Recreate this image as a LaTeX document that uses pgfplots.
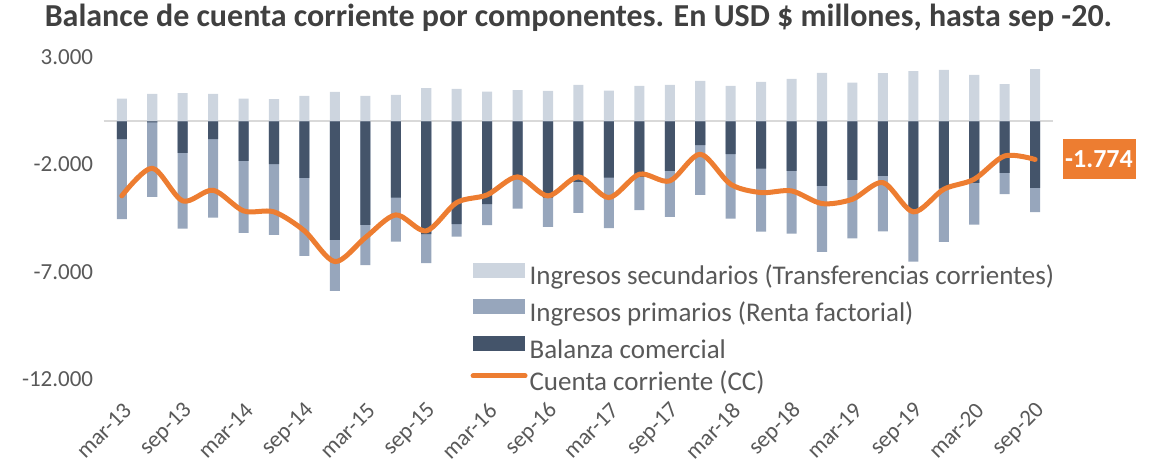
\documentclass[border=0pt]{standalone}
\usepackage{pgfplots}
\pgfplotsset{compat=1.18}
\usepackage{pgfplotstable}
\usepackage{fontspec}
\setmainfont{Carlito}

\definecolor{csec}{HTML}{CDD5DF}
\definecolor{cpri}{HTML}{97A6BC}
\definecolor{cbal}{HTML}{44546A}
\definecolor{ccc}{HTML}{ED7D31}
\definecolor{ctxt}{HTML}{595959}
\definecolor{cttl}{HTML}{404040}
\definecolor{czero}{HTML}{D9D9D9}

% trimestres mar-13 ... sep-20 (x = 0..30)
\pgfplotstableread{
x sec pri bc cc
0 1062 -3727 -830 -3470
1 1282 -3468 -50 -2181
2 1313 -3527 -1468 -3705
3 1282 -3651 -830 -3208
4 1062 -3355 -1841 -4171
5 1033 -3294 -1996 -4217
6 1188 -3635 -2633 -5103
7 1375 -2377 -5522 -6533
8 1188 -1878 -4823 -5415
9 1235 -2050 -3551 -4357
10 1546 -1350 -5258 -5103
11 1515 -577 -4791 -3783
12 1390 -977 -3860 -3425
13 1452 -1369 -2694 -2586
14 1421 -1365 -3551 -3472
15 1701 -1445 -2819 -2586
16 1437 -2360 -2617 -3551
17 1654 -1554 -2586 -2462
18 1701 -2143 -2307 -2773
19 1887 -2314 -1111 -1530
20 1654 -2998 -1530 -2929
21 1841 -2936 -2198 -3317
22 1981 -2920 -2307 -3239
23 2260 -3075 -3006 -3830
24 1810 -2719 -2726 -3627
25 2245 -2579 -2540 -2851
26 2338 -2393 -4140 -4217
27 2400 -2485 -3130 -3161
28 2167 -1943 -2866 -2695
29 1732 -994 -2400 -1608
30 2431 -1134 -3099 -1774
}\datos

\begin{document}
\begin{tikzpicture}
\begin{axis}[
    scale only axis, width=475pt, height=161pt,
    xmin=-0.6, xmax=30.6, ymin=-12000, ymax=3000,
    clip=false,
    axis line style={draw=none}, major tick length=0pt,
    ytick={-12000,-7000,-2000,3000},
    xtick={0,2,...,30},
    xticklabels={mar-13,sep-13,mar-14,sep-14,mar-15,sep-15,mar-16,sep-16,mar-17,sep-17,mar-18,sep-18,mar-19,sep-19,mar-20,sep-20},
    scaled y ticks=false,
    /pgf/number format/1000 sep={.},
    /pgf/number format/assume math mode=true,
    ticklabel style={font=\fontsize{11.5}{13}\selectfont, text=ctxt, inner sep=0pt},
    yticklabel style={anchor=east, xshift=-5pt},
    xticklabel style={xshift=3pt, yshift=-14pt, rotate=45, anchor=east},
    extra y ticks={0}, extra y tick labels={},
    extra y tick style={grid=major, major grid style={draw=czero, line width=1pt}},
    legend cell align=left,
    legend style={draw=none, fill=none, at={(0.386,0.362)}, anchor=north west,
        inner sep=0pt, row sep=4.2pt,
        font=\fontsize{13.5}{15}\selectfont, text=ctxt,
        nodes={inner sep=0pt, text height=9pt, text depth=3pt}},
]
\addplot[ybar, bar width=0.33, bar shift=0pt, fill=csec, draw=none,
    legend image code/.code={\fill[csec] (0pt,0.6pt) rectangle (26pt,8.1pt);}]
    table[x=x, y=sec]{\datos};
\addlegendentry{\hspace{1pt}Ingresos secundarios (Transferencias corrientes)}
\addplot[ybar, bar width=0.33, bar shift=0pt, fill=cpri, draw=none,
    legend image code/.code={\fill[cpri] (0pt,0.6pt) rectangle (26pt,8.1pt);}]
    table[x=x, y expr=\thisrow{bc}+\thisrow{pri}]{\datos};
\addlegendentry{\hspace{1pt}Ingresos primarios (Renta factorial)}
\addplot[ybar, bar width=0.33, bar shift=0pt, fill=cbal, draw=none,
    legend image code/.code={\fill[cbal] (0pt,0.6pt) rectangle (26pt,8.1pt);}]
    table[x=x, y=bc]{\datos};
\addlegendentry{\hspace{1pt}Balanza comercial}
\addplot[ccc, line width=2.5pt, smooth, tension=0.5, line cap=round, line join=round, no marks,
    legend image code/.code={\draw[ccc, line width=2.5pt, line cap=round] (0pt,4.35pt) -- (26pt,4.35pt);}]
    table[x=x, y=cc]{\datos};
\addlegendentry{\hspace{1pt}Cuenta corriente (CC)}

\node[fill=ccc, text=white, font=\bfseries\fontsize{13}{15}\selectfont, anchor=west,
    minimum width=36.5pt, minimum height=20pt, inner sep=0pt]
    at (axis cs:30,-1774) [xshift=13.5pt] {-1.774};

\node[anchor=base, inner sep=0pt, font=\bfseries\fontsize{16}{18}\selectfont, text=cttl]
    at (rel axis cs:0.5,1) [yshift=15.2pt]
    {Balance de cuenta corriente por componentes. En USD \$ millones, hasta sep -20.};

\path (rel axis cs:-0.109,-0.267) rectangle (rel axis cs:1.107,1.177);
\end{axis}
\end{tikzpicture}
\end{document}
